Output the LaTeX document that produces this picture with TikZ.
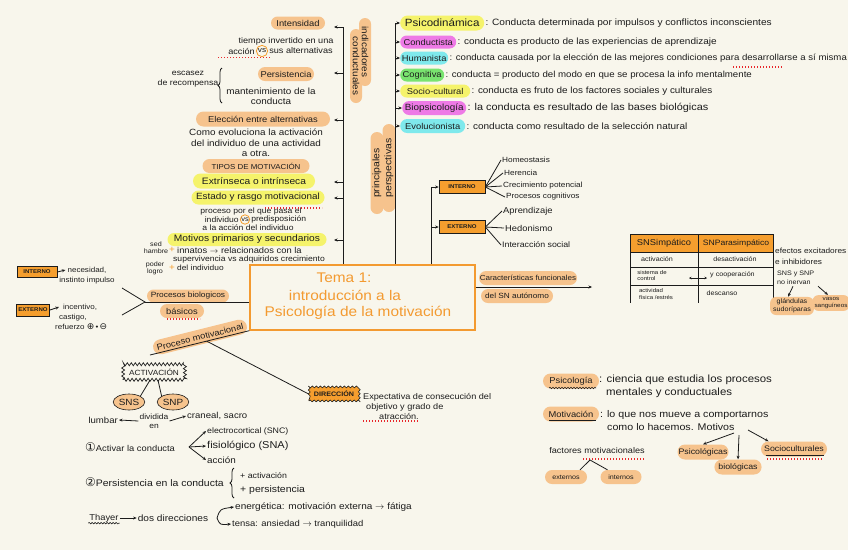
\documentclass[tikz,border=0pt]{standalone}
\usepackage{fontspec}
\setmainfont[FakeStretch=1.1]{Liberation Sans}
\newfontfamily\dejavu{DejaVu Sans}
\usetikzlibrary{arrows.meta,shapes.geometric,shapes.misc,decorations.pathmorphing,decorations.pathreplacing,calc}
\definecolor{bg}{HTML}{F8F6EC}
\definecolor{ink}{HTML}{1C1C1C}
\definecolor{pillc}{HTML}{F6C38D}
\definecolor{org}{HTML}{F59E2E}
\definecolor{temaor}{HTML}{F39A30}
\definecolor{yel}{HTML}{F5F36B}
\definecolor{mag}{HTML}{EE7AE6}
\definecolor{cya}{HTML}{7FE9EC}
\definecolor{grn}{HTML}{79E36F}
\definecolor{redd}{HTML}{E8262A}
\begin{document}
\begin{tikzpicture}[x=1pt,y=-1pt,
  every node/.style={text=ink, inner sep=1pt},
  f/.style={font=\fontsize{#1}{10}\selectfont},
  fb/.style 2 args={font=\fontsize{#1}{#2}\selectfont},
  pill/.style={rounded rectangle, fill=#1, inner xsep=3pt, inner ysep=1.5pt},
  pill/.default=pillc,
  blob/.style={rectangle, rounded corners=6pt, fill=pillc, inner xsep=3pt, inner ysep=2pt},
  arr/.style={-{Stealth[length=3.5pt,width=3pt]}, line width=0.8pt, draw=ink},
  darr/.style={{Stealth[length=2.5pt,width=2.5pt]}-{Stealth[length=2.5pt,width=2.5pt]}, line width=0.7pt, draw=ink},
  ln/.style={line width=0.8pt, draw=ink},
  box/.style={draw=ink, line width=0.7pt, fill=org, inner xsep=2pt, inner ysep=1.5pt, font=\fontsize{5.5}{6}\selectfont\bfseries},
  vsc/.style={circle, draw=org, line width=0.8pt, inner sep=0.8pt},
  rdot/.style={draw=redd, line width=1.2pt, dash pattern=on 1.2pt off 1.8pt},
  wavy/.style={draw=ink, line width=0.6pt, decorate, decoration={snake, amplitude=0.7pt, segment length=3pt}},
  brc/.style={draw=ink, line width=0.8pt, decorate, decoration={brace, amplitude=4pt}},
]
\fill[bg] (0,0) rectangle (848,550);
\useasboundingbox (0,0) rectangle (848,550);

% ---------------- left column: indicadores
\node[pill, f=8.5, minimum width=60, minimum height=13] (int) at (298,23) {Intensidad};
\node[f=8.3] (tie) at (286,41) {tiempo invertido en una};
\node[vsc, f=7.5] (vs1) at (262,51) {vs};
\node[f=8.3, anchor=east] (acc) at (vs1.west) {acción};
\node[f=8.3, anchor=west] (alt) at (vs1.east) {sus alternativas};
\draw[rdot] (218,57.5) -- (270,57.5);

\node[pill, f=8.5, minimum width=62, minimum height=14] (per) at (286,74) {Persistencia};
\node[f=8, align=center] (esc) at (188,79) {escasez\\de recompensa};
\draw[brc] (222,103) -- (222,68);
\node[f=9, align=center] (man) at (271,96) {mantenimiento de la\\conducta};

\node[pill, f=8.5, minimum width=140, minimum height=15] (ele) at (263,119) {Elección entre alternativas};
\node[fb={9}{10.5}, align=center] (como) at (256,143) {Como evoluciona la activación\\del individuo de una actividad\\a otra.};
\draw[rdot] (220,160) -- (272,160);

\node[pill, f=7.2, minimum width=113, minimum height=14] (tip) at (256,166) {TIPOS DE MOTIVACIÓN};
\node[pill=yel, f=9.3, minimum width=128, minimum height=15] (ext) at (254,181) {Extrínseca o intrínseca};
\node[pill=yel, f=9, minimum width=139, minimum height=14] (est) at (258,197.5) {Estado y rasgo motivacional};
\draw[rdot] (265,208) -- (322,208);
\node[f=7.8] (pr1) at (251,211) {proceso por el que pasa el};
\node[vsc, f=6.8, inner sep=0.4pt] (vs2) at (245,219.5) {vs};
\node[f=7.8, anchor=east] (pr2a) at (vs2.west) {individuo};
\node[f=7.8, anchor=west] (pr2b) at (vs2.east) {predisposición};
\node[f=7.8] (pr3) at (248,228) {a la acción del individuo};

\node[pill=yel, f=9.3, minimum width=165, minimum height=13] (mot) at (247,239.5) {Motivos primarios y secundarios};
\node[fb={6.5}{7}, align=center] (sed) at (156,248) {sed\\hambre};
\node[text=org, f=9] (pl1) at (172,250) {+};
\node[f=8.5, anchor=west] (inn) at (176,250) {innatos $\rightarrow$ relacionados con la};
\node[f=7.8, anchor=west] (sup) at (172,259) {supervivencia vs adquiridos crecimiento};
\node[fb={6.5}{7}, align=center] (pod) at (155,268) {poder\\logro};
\node[text=org, f=9] (pl2) at (172,268) {+};
\node[f=7.6, anchor=west] (ind) at (176,268) {del individuo};

% spines
\coordinate (L1) at (343,265);
\draw[ln, line width=1pt] (343,27) -- (L1);
\foreach \yy in {27,73,120,182,198,240} {\draw[arr] (343,\yy) -- ++(-9,0);}

% rotated labels: pill backgrounds first, texts on top
\node[pill, rotate=-90, minimum width=74, minimum height=12] (ind1b) at (365,52) {};
\node[pill, rotate=-90, minimum width=80, minimum height=12] (ind2b) at (356,66) {};
\node[rotate=-90, f=9] (ind1) at (ind1b.center) {indicadores};
\node[rotate=-90, f=9] (ind2) at (ind2b.center) {conductuales};
\node[pill, rotate=90, minimum width=88, minimum height=13] (pp1b) at (377,173) {};
\node[pill, rotate=90, minimum width=94, minimum height=13] (pp2b) at (389,168) {};
\node[rotate=90, f=9.5] (pp1) at (pp1b.center) {principales};
\node[rotate=90, f=9.5] (pp2) at (pp2b.center) {perspectivas};

% ---------------- perspectives
\node[pill=yel, f=10.5, anchor=west, minimum width=90, minimum height=15] (pd) at (400,23) {Psicodinámica};
\node[f=9.2, anchor=west] (pdd) at (pd.east) {: Conducta determinada por impulsos y conflictos inconscientes};
\node[pill=mag, f=8.5, anchor=west, minimum width=62, minimum height=13] (pc) at (400,42) {Conductista};
\node[f=9.1, anchor=west] (pcd) at (pc.east) {: conducta es producto de las experiencias de aprendizaje};
\node[pill=cya, f=8.5, anchor=west, minimum width=54, minimum height=13] (ph) at (400,58) {Humanista};
\node[f=8.75, anchor=west] (phd) at (ph.east) {: conducta causada por la elección de las mejores condiciones para desarrollarse a sí misma};
\draw[rdot] (733,67) -- (782,67);
\node[pill=grn, f=8.5, anchor=west, minimum width=50, minimum height=13] (pg) at (400,75) {Cognitiva};
\node[f=8.8, anchor=west] (pgd) at (pg.east) {: conducta = producto del modo en que se procesa la info mentalmente};
\node[pill=yel, f=8.5, anchor=west, minimum width=76, minimum height=13] (ps) at (400,91) {Socio-cultural};
\node[f=9, anchor=west] (psd) at (ps.east) {: conducta es fruto de los factores sociales y culturales};
\node[pill=mag, f=9, anchor=west, minimum width=70, minimum height=14] (pb) at (402,108) {Biopsicología};
\node[f=9.9, anchor=west] (pbd) at (pb.east) {: la conducta es resultado de las bases biológicas};
\node[pill=cya, f=8.5, anchor=west, minimum width=71, minimum height=14] (pe) at (400,126) {Evolucionista};
\node[f=9.1, anchor=west] (ped) at (pe.east) {: conducta como resultado de la selección natural};

\coordinate (R0) at (395,265);
\draw[arr, line width=1pt] (R0) |- (pd.west);
\foreach \nn in {pc,ph,pg,ps,pb,pe} {\draw[arr] (\nn.west -| R0) -- (\nn.west);}

% interno / externo (right)
\node[box, minimum width=46, minimum height=13] (iR) at (462,187) {INTERNO};
\node[box, minimum width=46, minimum height=13] (eR) at (462,227) {EXTERNO};
\coordinate (M0) at (431,265);
\draw[arr] (M0) |- (iR.west);
\draw[arr] (eR.west -| M0) -- (eR.west);
\node[f=7.5, anchor=west] (h1) at (501,160) {Homeostasis};
\node[f=7.5, anchor=west] (h2) at (503,173) {Herencia};
\node[f=7.5, anchor=west] (h3) at (502,186) {Crecimiento potencial};
\node[f=7.5, anchor=west] (h4) at (505,197) {Procesos cognitivos};
\node[f=8.5, anchor=west] (x1) at (502,211) {Aprendizaje};
\node[f=8.5, anchor=west] (x2) at (504,228) {Hedonismo};
\node[f=8, anchor=west] (x3) at (501,245) {Interacción social};
\foreach \nn in {h1,h2,h3,h4} {\draw[ln] (iR.east) -- (\nn.west);}
\foreach \nn in {x1,x2,x3} {\draw[ln] (eR.east) -- (\nn.west);}

% ---------------- Tema
\node[draw=temaor, line width=1.3pt, fill=bg, minimum width=225, minimum height=65] (tema) at (362.5,297.5) {};
\node[text=temaor, f=14] (t1) at (344,278) {Tema 1:};
\node[text=temaor, f=14] (t2) at (345,295) {introducción a la};
\node[text=temaor, f=14] (t3) at (358,313) {Psicología de la motivación};

% caracteristicas
\node[pill, f=7.3, minimum width=104, minimum height=14] (car) at (528,278) {Características funcionales};
\node[pill, f=7.5, minimum width=78, minimum height=14] (dsn) at (517,296) {del SN autónomo};
\coordinate (carE) at (592,287);
\draw[arr, line width=0.9pt] (tema.east |- carE) -- (carE);

% table
\fill[org] (630,234) rectangle (773,252);
\draw[ln] (630,234) -- (773,234) (630,252) -- (773,252) (630,267) -- (773,267) (630,285) -- (773,285);
\draw[ln] (630,234) -- (630,303) (698,234) -- (698,303) (773,234) -- (773,303);
\node[f=8.5] (th1) at (664,243) {SNSimpático};
\node[f=7.8] (th2) at (736,243) {SNParasimpático};
\node[f=6.5] (c11) at (657,259) {activación};
\node[f=6.5] (c12) at (735,259) {desactivación};
\node[fb={5.5}{6}, align=left] (c21) at (652,276) {sistema de\\control};
\node[f=6.5, anchor=west] (c22) at (709,275) {y cooperación};
\draw[darr] (689,278) -- (707,278);
\node[fb={5.5}{6.5}, align=left] (c31) at (656,294) {actividad\\física /estrés};
\node[f=6.5] (c32) at (722,293) {descanso};

\node[fb={7.5}{11}, align=left, anchor=west] (efe) at (774,256) {efectos excitadores\\e inhibidores};
\node[fb={6.5}{9.5}, align=left, anchor=west] (sns2) at (776,278) {SNS y SNP\\no inervan};
\node[blob, fb={6.5}{8}, align=center] (gla) at (792,306) {glándulas\\sudoríparas};
\node[blob, fb={5.8}{7.5}, align=center, inner xsep=2pt] (vas) at (831,303) {vasos\\sanguíneos};
\draw[arr] ([xshift=17pt]sns2.south west) -- ([xshift=-4pt]gla.north);
\draw[arr] ([xshift=42pt]sns2.south west) -- ([xshift=-3pt]vas.north);

% ---------------- left middle
\node[box, minimum width=40, minimum height=11] (intL) at (37,272) {INTERNO};
\node[f=7.3, align=center] (nec) at (87,275.5) {necesidad,\\instinto impulso};
\draw[arr] (intL.east) -- ++(8,-2);
\node[box, minimum width=33, minimum height=12] (extL) at (33,310) {EXTERNO};
\node[f=7.3, align=left, anchor=west] (inc) at (54,316.5) {\hspace*{8pt}incentivo,\\\hspace*{4pt}castigo,\\refuerzo {\dejavu\fontsize{9}{9}\selectfont ⊕}\,•\,{\dejavu\fontsize{9}{9}\selectfont ⊖}};
\draw[arr] (extL.east) -- ++(9,-3);

\coordinate (fork) at (145,302);
\coordinate (fa) at (122,288);
\coordinate (fb) at (122,315);
\draw[ln] (fa) -- (fork) -- (fb);
\node[pill, f=7.6, minimum width=88, minimum height=13] (pb1) at (188,296) {Procesos biologicos};
\node[pill, f=8.5, minimum width=50, minimum height=14] (pb2) at (182,311) {básicos};
\draw[rdot] (167,319) -- (200,319);
\draw[ln] (fork) -- (tema.west |- fork);

% proceso motivacional
\coordinate (pmA) at (150,355);
\node[pill, f=8.5, rotate=14, minimum width=96, minimum height=15] (pm) at (200,337) {Proceso motivacional};
\draw[ln] (pmA) -- (tema.south west);
\coordinate (pmB) at ($(pmA)!0.57!(tema.south west)$);

\node[fill=org, draw=ink, line width=0.6pt, decorate, decoration={snake, segment length=4pt, amplitude=0.9pt}, font=\fontsize{6.5}{7}\selectfont\bfseries, inner xsep=5pt, inner ysep=4pt] (dir) at (334,394) {DIRECCIÓN};
\draw[ln] (pmB) -- (dir.west);
\node[fb={8.3}{10}, align=left, anchor=north west] (exp) at (362,392) {Expectativa de consecución del\\\hspace*{3pt}objetivo y grado de\\\hspace*{16pt}atracción.};
\draw[rdot] (363,421) -- (418,421);

% activacion
\node[draw=ink, line width=0.7pt, fill=bg, decorate, decoration={zigzag, segment length=4pt, amplitude=1.5pt}, f=7.5, inner xsep=6pt, inner ysep=4.5pt] (act) at (154,372) {ACTIVACIÓN};
\node[ellipse, draw=ink, fill=pillc, line width=0.6pt, f=9, inner sep=1pt, minimum width=28, minimum height=16] (sns) at (129,402) {SNS};
\node[ellipse, draw=ink, fill=pillc, line width=0.6pt, f=9, inner sep=1pt, minimum width=30, minimum height=16] (snp) at (173,402) {SNP};
\draw[ln] ([xshift=-4pt]act.south) -- (sns.north east);
\draw[ln] ([xshift=4pt]act.south) -- (snp.north west);
\node[fb={7.7}{9}, align=center] (div) at (154,421) {dividida\\en};
\node[f=8.7, anchor=east] (lum) at (119,420) {lumbar};
\node[f=8.7, anchor=west] (cra) at (186,416) {craneal, sacro};
\draw[arr] (div.west) -- (lum.east);
\draw[arr] (div.east) -- (cra.west);

% 1 and 2
\node[f=8.5, anchor=west] (a1) at (84,447) {{\dejavu\fontsize{12}{12}\selectfont ①}Activar la conducta};
\node[f=8, anchor=west] (e1) at (206,431) {electrocortical (SNC)};
\node[f=10, anchor=west] (e2) at (206,446) {fisiológico (SNA)};
\node[f=9, anchor=west] (e3) at (206,460) {acción};
\coordinate (a1x) at (189,447);
\draw[arr] (a1x) -- (e1.west);
\draw[arr] (a1x) -- (e2.west);
\draw[arr] (a1x) -- (e3.west);

\node[f=9.5, anchor=west] (a2) at (84,482) {{\dejavu\fontsize{12}{12}\selectfont ②}Persistencia en la conducta};
\draw[brc] (234,498) -- (234,468);
\node[f=8, anchor=west] (p1) at (239,476) {+ activación};
\node[f=9.5, anchor=west] (p2) at (239,490) {+ persistencia};

% Thayer
\node[f=8.5] (thy) at (104,518) {Thayer};
\draw[wavy] (thy.south west) -- (thy.south east);
\node[f=9.2] (dd) at (173,518) {dos direcciones};
\draw[arr] (thy.east) -- (dd.west);
\node[f=9.1, anchor=west] (en) at (234,507) {energética: motivación externa $\rightarrow$ fátiga};
\node[f=8.6, anchor=west] (te) at (231,524) {tensa: ansiedad $\rightarrow$ tranquilidad};
\coordinate (ddx) at (217,518);
\draw[arr] (ddx) .. controls (220,509) .. (en.west);
\draw[arr] (ddx) .. controls (220,525) .. (te.west);

% ---------------- bottom right
\node[pill, f=8.5, minimum width=62, minimum height=15] (psi) at (571,381) {Psicología};
\draw[wavy] (549,388) -- (596,388);
\node[fb={10.4}{13}, align=left, anchor=west] (psid) at (598,386) {: ciencia que estudia los procesos\\\hspace*{7pt}mentales y conductuales};
\node[pill, f=8.5, minimum width=62, minimum height=15] (mtv) at (571,414) {Motivación};
\draw[ln, line width=0.6pt] (549,420) -- (596,420);
\node[fb={9.7}{13}, align=left, anchor=west] (mtvd) at (599,420.5) {: lo que nos mueve a comportarnos\\\hspace*{7pt}como lo hacemos. Motivos};
\node[pill, f=8, minimum width=57, minimum height=15] (mp) at (703,452) {Psicológicas};
\node[pill, f=8, minimum width=44, minimum height=15] (mb) at (738,467) {biológicas};
\node[pill, f=8, minimum width=72, minimum height=15] (ms) at (794,449) {Socioculturales};
\draw[ln, line width=0.5pt] (766,455) -- (824,455);
\draw[rdot] (767,459) -- (823,459);
\coordinate (m1) at (734,433);
\coordinate (m2) at (739,435);
\coordinate (m3) at (748,430);
\draw[arr] (m1) -- (mp.north);
\draw[arr] (m2) -- (mb.north);
\draw[arr] (m3) -- (ms.north west);

\node[f=8.3] (fac) at (597,451) {factores motivacionales};
\draw[rdot] (583,459) -- (645,459);
\coordinate (fc) at (590,460);
\node[pill, f=6.5, minimum width=48, minimum height=14] (fe) at (566,477) {externos};
\node[pill, f=6.5, minimum width=47, minimum height=14] (fi) at (621,477) {internos};
\draw[ln] (fe.north east) -- (fc) -- (fi.north west);
\end{tikzpicture}
\end{document}
